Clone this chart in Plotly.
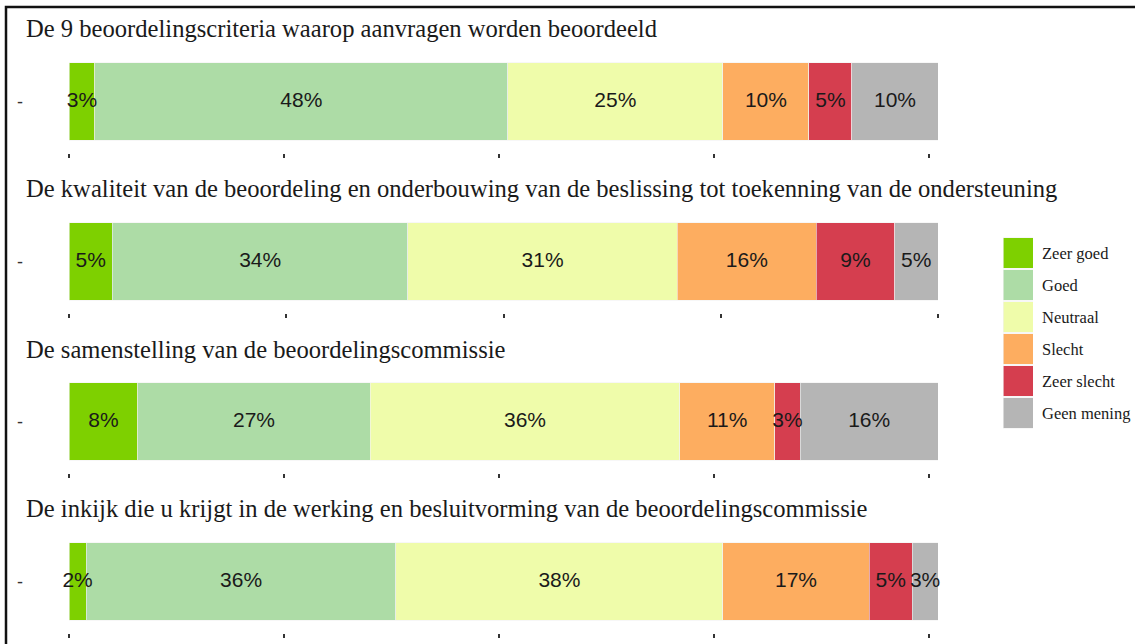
import plotly.graph_objects as go
import numpy as np

# Data
categories = ["Zeer goed", "Goed", "Neutraal", "Slecht", "Zeer slecht", "Geen mening"]
colors = ["#7ED000", "#ADDCA6", "#EFFCAA", "#FDAD60", "#D53E4F", "#B5B5B5"]

questions = [
    "De 9 beoordelingscriteria waarop aanvragen worden beoordeeld",
    "De kwaliteit van de beoordeling en onderbouwing van de beslissing tot toekenning van de ondersteuning",
    "De samenstelling van de beoordelingscommissie",
    "De inkijk die u krijgt in de werking en besluitvorming van de beoordelingscommissie",
]
criteria = [3, 48, 25, 10, 5, 10]
kwaliteit = [5, 34, 31, 16, 9, 5]
samenstelling = [8, 27, 36, 11, 3, 16]
inkijk = [2, 36, 38, 17, 5, 3]
panel_values = [criteria, kwaliteit, samenstelling, inkijk]

x_ticks = [0, 25, 50, 75, 100]

W, H = 1135, 644

def px_x(p):
    return p / W

def px_y(p):
    return 1 - p / H

fig = go.Figure()

# panel tops in pixels (title above each)
panel_tops = [50, 210, 370, 530]
panel_h = 103
title_y = [29, 189, 349, 508]

for i, vals in enumerate(panel_values):
    n = i + 1
    xa = "x" if n == 1 else f"x{n}"
    ya = "y" if n == 1 else f"y{n}"
    for cat, col, v in zip(categories, colors, vals):
        fig.add_trace(go.Bar(
            x=[v], y=["-"], orientation="h",
            name=cat, marker=dict(color=col, line=dict(color="#f2f2f2", width=0.6)),
            width=0.9, xaxis=xa, yaxis=ya, showlegend=False, hoverinfo="skip",
        ))
    # labels on top of all segments so narrow ones can spill over neighbours
    mids = np.cumsum(vals) - np.array(vals) / 2
    fig.add_trace(go.Scatter(
        x=mids, y=["-"] * len(vals), mode="text",
        text=[f"{v}%" for v in vals], textposition="middle center",
        textfont=dict(family="Liberation Sans, Arial", size=21, color="#1a1a1a"),
        xaxis=xa, yaxis=ya, showlegend=False, hoverinfo="skip", cliponaxis=False,
    ))
    top = panel_tops[i]
    fig.update_layout(**{
        f"xaxis{'' if n == 1 else n}": dict(
            domain=[px_x(69), px_x(938)], anchor=ya, range=[0, sum(vals)],
            tickvals=x_ticks, ticks="outside", ticklen=4, tickwidth=1.5,
            tickcolor="#333333", showticklabels=False, showgrid=False,
            zeroline=False, showline=False, fixedrange=True,
        ),
        f"yaxis{'' if n == 1 else n}": dict(
            domain=[px_y(top + panel_h), px_y(top)], anchor=xa, range=[-0.6, 0.6],
            type="category", ticks="", showgrid=False, zeroline=False, showline=False,
            ticklabelstandoff=45,
            tickfont=dict(family="Liberation Sans, Arial", size=18, color="#333333"),
            fixedrange=True,
        ),
    })
    fig.add_annotation(
        xref="paper", yref="paper", x=px_x(24), y=px_y(title_y[i]),
        xanchor="left", yanchor="middle", showarrow=False, text=questions[i],
        font=dict(family="Liberation Serif, Times New Roman", size=24.6, color="#1a1a1a"),
    )

# legend drawn as a small bar panel so the keys get the reference's size
fig.add_trace(go.Bar(
    x=[1] * len(categories), y=categories, orientation="h",
    marker=dict(color=colors, line=dict(color="#f2f2f2", width=0.6)),
    width=0.94, xaxis="x5", yaxis="y5", showlegend=False, hoverinfo="skip",
))
fig.update_layout(
    xaxis5=dict(domain=[px_x(1003), px_x(1033)], anchor="y5", range=[0, 1],
                visible=False, fixedrange=True),
    yaxis5=dict(domain=[px_y(429), px_y(237)], anchor="x5", side="right",
                range=[len(categories) - 0.5, -0.5], type="category",
                ticks="", showgrid=False, zeroline=False, showline=False,
                ticklabelstandoff=8,
                tickfont=dict(family="Liberation Serif, Times New Roman", size=16.5, color="#1a1a1a"),
                fixedrange=True),
)

# frame around the picture
fig.add_shape(type="rect", xref="paper", yref="paper",
              x0=px_x(6), x1=1.05, y0=-0.05, y1=px_y(7),
              line=dict(color="#111111", width=2.5), fillcolor="rgba(0,0,0,0)")

fig.update_layout(
    width=W, height=H, barmode="stack", showlegend=False,
    margin=dict(l=0, r=0, t=0, b=0),
    plot_bgcolor="white", paper_bgcolor="white",
)

# page body has a default 8px margin; drop it so the figure sits at the window's corner
fig.write_html("out.html", config={"displayModeBar": False},
               post_script="document.body.style.margin='0';")
